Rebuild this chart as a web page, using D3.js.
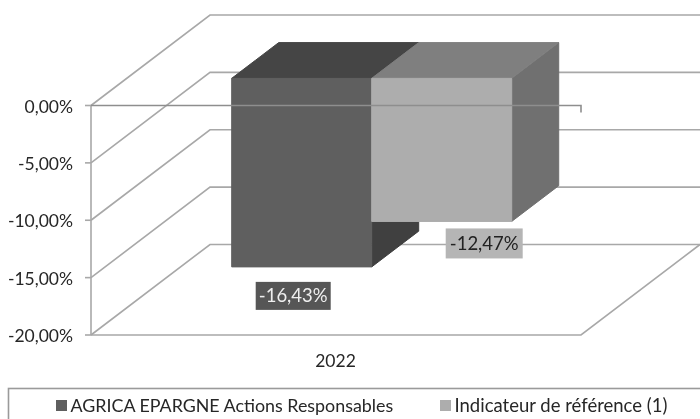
<!DOCTYPE html>
<html>
<head>
<meta charset="utf-8">
<script src="https://cdn.jsdelivr.net/npm/d3@7"></script>
<style>
  html, body { margin: 0; padding: 0; background: #fff; overflow: hidden; }
  text { font-family: Lato, "Open Sans", sans-serif; }
</style>
</head>
<body>
<div id="chart"></div>
<script>
const categories = ["2022"];
const seriesNames = ["AGRICA EPARGNE Actions Responsables", "Indicateur de référence (1)"];
const seriesValues = [-16.43, -12.47];
const seriesLabels = ["-16,43%", "-12,47%"];
const yTicks = [0, -5, -10, -15, -20];
const yTickLabels = ["0,00%", "-5,00%", "-10,00%", "-15,00%", "-20,00%"];

const width = 700;
const height = 419;

// front plane of the 3D box
const marginLeft = 91;
const plotRight = 581;
const y0 = 105.5;
const yBottom = 335;
// how far the back wall is shifted from the front plane
const depthX = 119;
const depthY = -90.5;
// bar depth, as fractions of the box depth
const barFront = 0.3;
const barBack = 0.695;

const palette = [
  { front: "#5f5f5f", top: "#454545", side: "#3f3f3f" },
  { front: "#adadad", top: "#7f7f7f", side: "#6f6f6f" }
];
const gridColor = "#a8a8a8";

const x = d3.scaleBand()
  .domain(categories)
  .range([marginLeft, plotRight]);

const xSeries = d3.scaleBand()
  .domain(d3.range(seriesValues.length))
  .range([x("2022"), x("2022") + x.bandwidth()])
  .paddingOuter(0.75)
  .paddingInner(0);

const y = d3.scaleLinear()
  .domain([0, -20])
  .range([y0, yBottom]);

// project a point of the plot on the screen, f = depth from 0 to 1
const px = (vx, f) => vx + depthX * f;
const py = (v, f) => y(v) + depthY * f;
const poly = pts => pts.map(p => p.join(",")).join(" ");

const svg = d3.select("#chart")
  .append("svg")
  .attr("width", width)
  .attr("height", height)
  .attr("viewBox", [0, 0, width, height])
  .style("display", "block");

// slight softness, the reference is a scanned picture
const defs = svg.append("defs");
defs.append("filter").attr("id", "soft")
  .append("feGaussianBlur").attr("stdDeviation", 0.45);

const root = svg.append("g").attr("filter", "url(#soft)");

// 1. Gridlines on side and back wall
const grid = root.append("g")
  .attr("fill", "none")
  .attr("stroke", gridColor)
  .attr("stroke-width", 1.6);

grid.selectAll("polyline")
  .data(yTicks)
  .join("polyline")
  .attr("points", d => poly([
    [marginLeft, py(d, 0)],
    [px(marginLeft, 1), py(d, 1)],
    [px(plotRight, 1), py(d, 1)]
  ]));

// floor front and right edge, left axis
grid.append("polyline")
  .attr("points", poly([
    [marginLeft, py(-20, 0)],
    [plotRight, py(-20, 0)],
    [px(plotRight, 1), py(-20, 1)]
  ]));

grid.append("line")
  .attr("x1", marginLeft).attr("x2", marginLeft)
  .attr("y1", y(0)).attr("y2", y(-20));

grid.selectAll(".tick-mark")
  .data(yTicks)
  .join("line")
  .attr("class", "tick-mark")
  .attr("x1", marginLeft - 6).attr("x2", marginLeft)
  .attr("y1", d => y(d)).attr("y2", d => y(d));

// 2. Bars, the far one first
const bars = root.append("g")
  .attr("stroke-width", 1);

seriesValues.forEach((v, i) => {
  const x1 = xSeries(i);
  const x2 = x1 + xSeries.bandwidth();
  const c = palette[i];
  const g = bars.append("g");
  g.append("polygon")
    .attr("fill", c.side).attr("stroke", c.side)
    .attr("points", poly([
      [px(x2, barFront), py(0, barFront)],
      [px(x2, barBack), py(0, barBack)],
      [px(x2, barBack), py(v, barBack)],
      [px(x2, barFront), py(v, barFront)]
    ]));
  g.append("polygon")
    .attr("fill", c.top).attr("stroke", c.top)
    .attr("points", poly([
      [px(x1, barFront), py(0, barFront)],
      [px(x1, barBack), py(0, barBack)],
      [px(x2, barBack), py(0, barBack)],
      [px(x2, barFront), py(0, barFront)]
    ]));
  g.append("polygon")
    .attr("fill", c.front).attr("stroke", c.front)
    .attr("points", poly([
      [px(x1, barFront), py(0, barFront)],
      [px(x2, barFront), py(0, barFront)],
      [px(x2, barFront), py(v, barFront)],
      [px(x1, barFront), py(v, barFront)]
    ]));
});

// 3. Zero line runs over the bars, with its end tick
const zeroLine = root.append("g")
  .attr("fill", "none")
  .attr("stroke", "#8e8e8e")
  .attr("stroke-width", 1.6);

zeroLine.append("polyline")
  .attr("points", poly([
    [marginLeft, y(0)],
    [plotRight, y(0)],
    [plotRight, y(0) + 7]
  ]));

// 4. Tick labels
const textColor = "#262626";

root.append("g")
  .attr("font-size", 17.5)
  .attr("fill", textColor)
  .attr("text-anchor", "end")
  .selectAll("text")
  .data(yTicks)
  .join("text")
  .attr("x", 73)
  .attr("y", d => y(d) + 7)
  .text((d, i) => yTickLabels[i]);

root.append("text")
  .attr("x", x("2022") + x.bandwidth() / 2 - 0.5)
  .attr("y", 367)
  .attr("font-size", 17.5)
  .attr("fill", textColor)
  .attr("text-anchor", "middle")
  .text(categories[0]);

// 5. Value labels, below the bars
const labelBoxes = [
  { dx: -8.5, dy: 15, w: 75, h: 28, fill: "#565656", color: "#efefef" },
  { dx: 42.5, dy: 7, w: 77, h: 30, fill: "#b5b5b5", color: "#222222" }
];

const valueLabels = root.append("g");

seriesValues.forEach((v, i) => {
  const b = labelBoxes[i];
  const cx = px(xSeries(i) + xSeries.bandwidth() / 2, barFront) + b.dx;
  const top = py(v, barFront) + b.dy;
  valueLabels.append("rect")
    .attr("x", cx - b.w / 2)
    .attr("y", top)
    .attr("width", b.w)
    .attr("height", b.h)
    .attr("fill", b.fill);
  valueLabels.append("text")
    .attr("x", cx)
    .attr("y", top + b.h / 2 + 6.5)
    .attr("text-anchor", "middle")
    .attr("font-size", 18.5)
    .attr("fill", b.color)
    .text(seriesLabels[i]);
});

// 6. Legend
const legend = root.append("g");

legend.append("rect")
  .attr("x", 8.5)
  .attr("y", 388.5)
  .attr("width", 700)
  .attr("height", 60)
  .attr("fill", "none")
  .attr("stroke", "#9a9a9a")
  .attr("stroke-width", 1.6);

const legendX = [56, 440];
const legendFontSize = [17.85, 18.5];

seriesNames.forEach((name, i) => {
  legend.append("rect")
    .attr("x", legendX[i])
    .attr("y", 400)
    .attr("width", 11)
    .attr("height", 11)
    .attr("fill", palette[i].front);
  legend.append("text")
    .attr("x", legendX[i] + 14.5)
    .attr("y", 412)
    .attr("font-size", legendFontSize[i])
    .attr("fill", textColor)
    .text(name);
});
</script>
</body>
</html>
